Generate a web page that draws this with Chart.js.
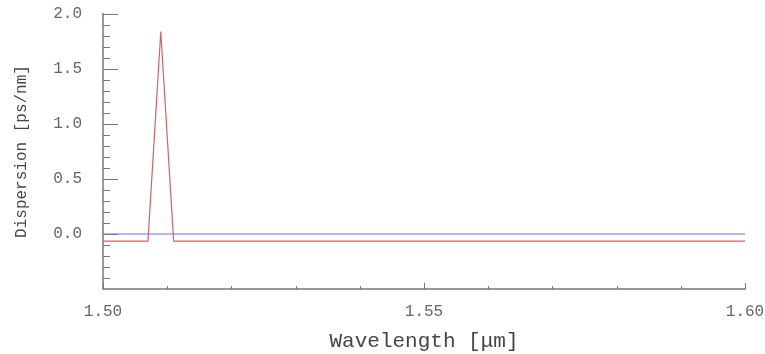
<!DOCTYPE html>
<html>
<head>
<meta charset="utf-8">
<script src="https://cdn.jsdelivr.net/npm/chart.js@4"></script>
<style>
  html, body { margin: 0; padding: 0; background: #ffffff; }
  #wrap { width: 765px; height: 354px; }
</style>
</head>
<body>
<div id="wrap"><canvas id="c" width="765" height="354"></canvas></div>
<script>
// Wavelength samples [µm] and dispersion [ps/nm]
const wavelengthRed = [1.500, 1.507, 1.509, 1.511, 1.571, 1.600];
const dispersionRed = [-0.065, -0.065, 1.84, -0.065, -0.065, -0.065];
const wavelengthBlue = [1.500, 1.600];
const dispersionBlue = [0.0, 0.0];

// Axis ticks
const xMajorTicks = [1.50, 1.55, 1.60];
const xMinorTicks = [1.51, 1.52, 1.53, 1.54, 1.56, 1.57, 1.58, 1.59];
const yMajorTicks = [0.0, 0.5, 1.0, 1.5, 2.0];
const yMinorTicks = [-0.4, -0.3, -0.2, -0.1, 0.1, 0.2, 0.3, 0.4, 0.6, 0.7, 0.8, 0.9,
                     1.1, 1.2, 1.3, 1.4, 1.6, 1.7, 1.8, 1.9];

const toPoints = (xs, ys) => xs.map((x, i) => ({ x: x, y: ys[i] }));

// Inward tick marks drawn along the axes
const innerTicks = {
  id: 'innerTicks',
  beforeDatasetsDraw(chart) {
    const ctx = chart.ctx;
    const xs = chart.scales.x, ys = chart.scales.y;
    const area = chart.chartArea;
    ctx.save();
    ctx.lineWidth = 1;
    const ytick = (v, len, col) => {
      const p = Math.round(ys.getPixelForValue(v)) + 0.5;
      ctx.strokeStyle = col;
      ctx.beginPath(); ctx.moveTo(area.left, p); ctx.lineTo(area.left + len, p); ctx.stroke();
    };
    const xtick = (v, len, col) => {
      const p = Math.round(xs.getPixelForValue(v)) + 0.5;
      ctx.strokeStyle = col;
      ctx.beginPath(); ctx.moveTo(p, area.bottom); ctx.lineTo(p, area.bottom - len); ctx.stroke();
    };
    yMinorTicks.forEach(v => ytick(v, 7, '#777777'));
    yMajorTicks.forEach(v => ytick(v, 15, '#777777'));
    xMinorTicks.forEach(v => xtick(v, 3, '#777777'));
    xMajorTicks.forEach(v => xtick(v, 6, '#777777'));
    ctx.restore();
  }
};

new Chart(document.getElementById('c'), {
  type: 'line',
  data: {
    datasets: [
      {
        data: toPoints(wavelengthBlue, dispersionBlue),
        borderColor: '#6f6ff0',
        borderWidth: 1,
        pointRadius: 0,
        tension: 0
      },
      {
        data: toPoints(wavelengthRed, dispersionRed),
        borderColor: '#d46464',
        borderWidth: 1.2,
        pointRadius: 0,
        tension: 0
      }
    ]
  },
  options: {
    responsive: false,
    animation: false,
    events: [],
    layout: { padding: { top: 14, right: 20, left: 0, bottom: 0 } },
    plugins: { legend: { display: false }, tooltip: { enabled: false } },
    scales: {
      x: {
        type: 'linear',
        min: 1.5,
        max: 1.6,
        afterFit(s) { s.height = 65; s.paddingLeft = 0; s.paddingRight = 0; },
        afterBuildTicks(s) { s.ticks = xMajorTicks.map(v => ({ value: v })); },
        grid: { display: false },
        border: { display: true, color: '#9a9a9a', width: 2 },
        ticks: {
          padding: 5,
          color: '#666666',
          font: { family: 'Liberation Mono', size: 16 },
          maxRotation: 0,
          autoSkip: false,
          callback: v => v.toFixed(2)
        },
        title: {
          display: true,
          text: 'Wavelength [μm]',
          color: '#454545',
          font: { family: 'Liberation Mono', size: 21 },
          padding: { top: 1, bottom: 0 }
        }
      },
      y: {
        type: 'linear',
        min: -0.5,
        max: 2.0,
        afterFit(s) { s.width = 103; s.paddingTop = 0; s.paddingBottom = 0; },
        afterBuildTicks(s) { s.ticks = yMajorTicks.map(v => ({ value: v })); },
        grid: { display: false },
        border: { display: true, color: '#9a9a9a', width: 2 },
        ticks: {
          padding: 13,
          color: '#666666',
          font: { family: 'Liberation Mono', size: 16 },
          autoSkip: false,
          callback: v => v.toFixed(1)
        },
        title: {
          display: true,
          text: 'Dispersion [ps/nm]',
          color: '#454545',
          font: { family: 'Liberation Mono', size: 16 },
          padding: { top: 12, bottom: 0 }
        }
      }
    }
  },
  plugins: [innerTicks]
});
</script>
</body>
</html>
